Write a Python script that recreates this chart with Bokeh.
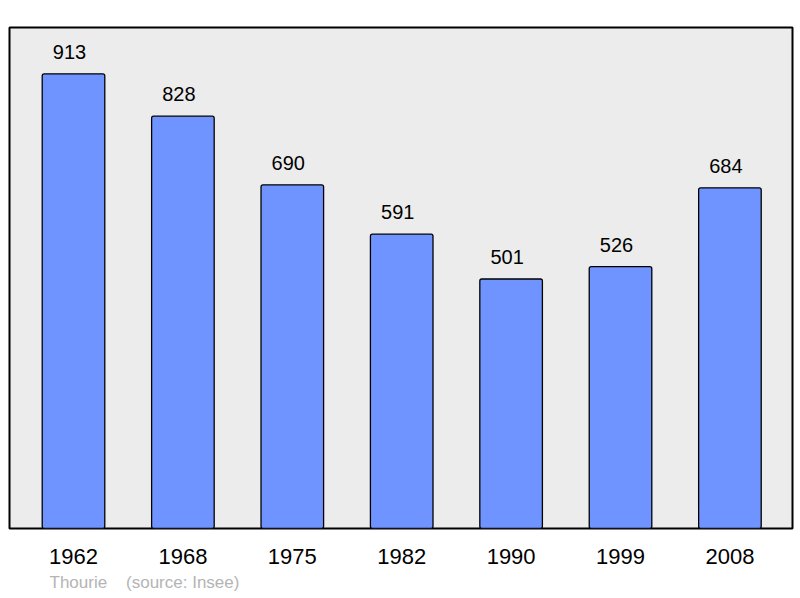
from bokeh.plotting import figure
from bokeh.models import ColumnDataSource, Range1d, FixedTicker, Title
from bokeh.core.properties import value
from bokeh.embed import file_html
from bokeh.resources import INLINE

years = ["1962", "1968", "1975", "1982", "1990", "1999", "2008"]
population = [913, 828, 690, 591, 501, 526, 684]
commune = "Thourie"
source_note = "(source: Insee)"

xs = list(range(len(years)))
src = ColumnDataSource(dict(x=xs, top=population, lab=[str(v) for v in population]))

FONT = "Liberation Sans"

p = figure(width=796, height=596, output_backend="svg", toolbar_location=None,
           x_range=Range1d(-0.585, 6.572), y_range=Range1d(0, 1006),
           min_border_left=9, min_border_right=4, min_border_top=27, min_border_bottom=68)
p.background_fill_color = "#ececec"
p.border_fill_color = "white"
p.outline_line_color = "black"
p.outline_line_width = 2
p.grid.visible = False
p.yaxis.visible = False

p.vbar(x="x", top="top", width=0.572, bottom=0, source=src,
       fill_color="#7094ff", line_color="black", line_width=1.3, border_radius=2)
p.text(x="x", y="top", text="lab", source=src, text_align="center",
       text_baseline="alphabetic", y_offset=-22, x_offset=-4,
       text_font=value(FONT), text_font_size="20px", text_color="black")

p.xaxis.ticker = FixedTicker(ticks=xs)
p.xaxis.major_label_overrides = {i: y for i, y in enumerate(years)}
p.xaxis.axis_line_color = None
p.xaxis.major_tick_line_color = None
p.xaxis.minor_tick_line_color = None
p.xaxis.major_label_standoff = 14
p.xaxis.major_label_text_font = FONT
p.xaxis.major_label_text_font_size = "22px"
p.xaxis.major_label_text_color = "black"

p.add_layout(Title(text=commune + "\u00a0\u00a0\u00a0\u00a0" + source_note, align="left", offset=40,
                   text_font=FONT, text_font_size="17px", text_font_style="normal",
                   text_color="#b4b4b4", standoff=8), "below")

open("out.html", "w").write(file_html(p, INLINE))
